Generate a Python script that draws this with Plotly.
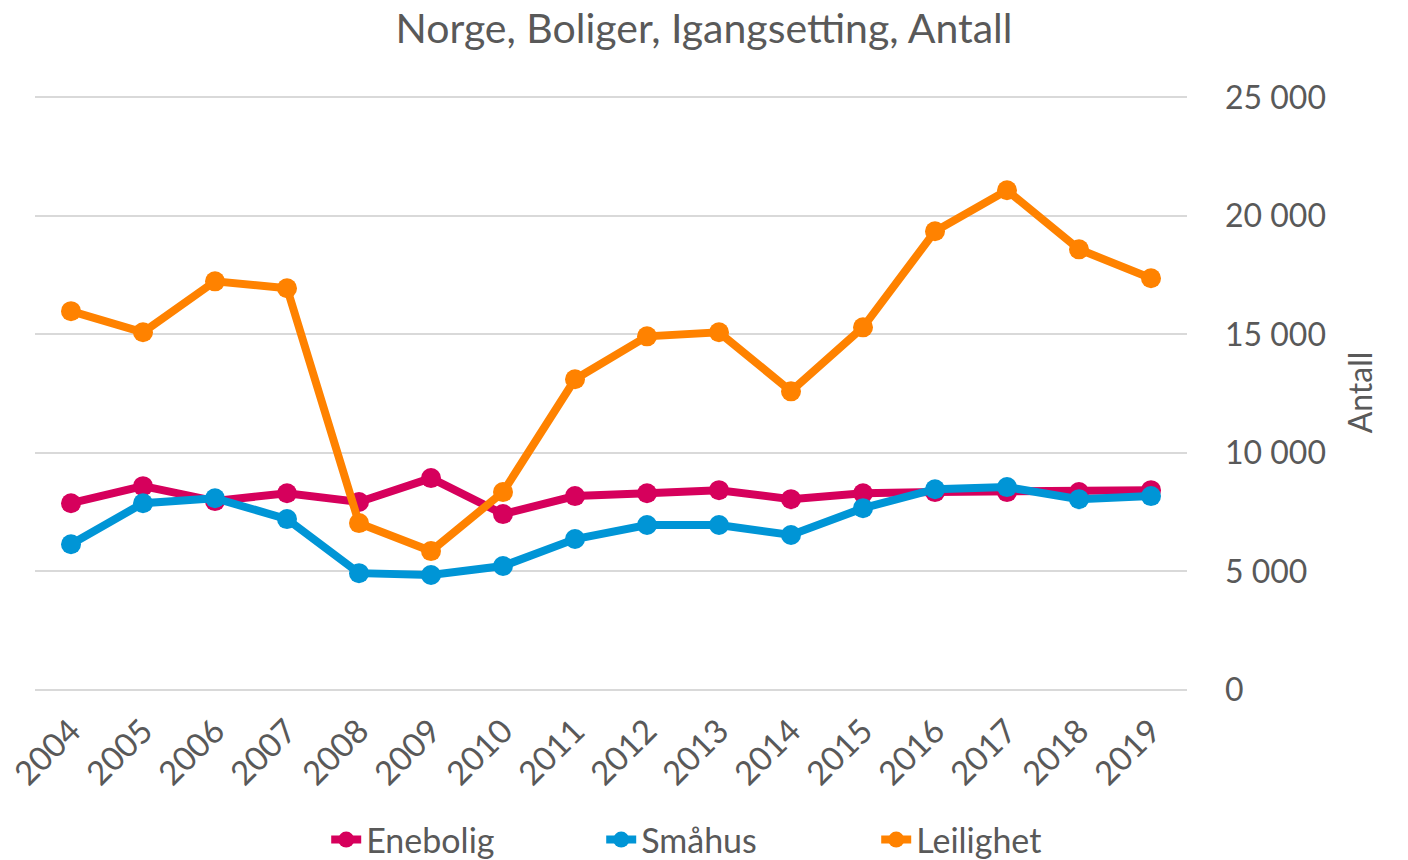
import plotly.graph_objects as go

years = [str(y) for y in range(2004, 2020)]
enebolig = [7880, 8600, 7970, 8300, 7930, 8940, 7420, 8180, 8300, 8430, 8050, 8300, 8350, 8350, 8350, 8430]
smahus = [6150, 7880, 8090, 7210, 4930, 4850, 5230, 6370, 6960, 6960, 6540, 7670, 8470, 8560, 8050, 8180]
leilighet = [15980, 15090, 17240, 16950, 7040, 5860, 8350, 13110, 14920, 15090, 12600, 15300, 19350, 21080, 18590, 17370]

series = [("Enebolig", enebolig, "#D6005C"), ("Småhus", smahus, "#0095D6"), ("Leilighet", leilighet, "#FF8200")]

fig = go.Figure()
for name, vals, col in series:
    fig.add_trace(go.Scatter(x=years, y=vals, name=name, mode="lines+markers",
                             line=dict(color=col, width=8),
                             marker=dict(color=col, size=20)))

font = "Lato, 'Open Sans', sans-serif"
grey = "#595959"
fig.update_layout(
    width=1408, height=860,
    paper_bgcolor="white", plot_bgcolor="white",
    margin=dict(l=27, r=229, t=87, b=178, autoexpand=False),
    separators=", ",
    title=dict(text="Norge, Boliger, Igangsetting, Antall", x=0.4943, xref="container",
               xanchor="center", y=0.993, yref="container", yanchor="top",
               font=dict(family=font, size=41, color=grey)),
    font=dict(family=font, color=grey),
    showlegend=True,
    legend=dict(orientation="h", xref="container", x=0.226, xanchor="left",
                yref="container", y=(860 - 832) / 860, yanchor="middle",
                font=dict(size=34, color=grey), entrywidth=230, entrywidthmode="pixels",
                tracegroupgap=0),
    xaxis=dict(type="category", range=[-0.5, 15.5], tickangle=-45, showgrid=False,
               showline=False, ticks="", automargin=False, ticklabelstandoff=14,
               tickfont=dict(size=33, color=grey)),
    yaxis=dict(side="right", range=[0, 25100], dtick=5000, tick0=0, tickformat=",d",
               showgrid=True, gridcolor="#D9D9D9", gridwidth=2, zeroline=True,
               zerolinecolor="#D9D9D9", zerolinewidth=2, showline=False, automargin=False,
               tickfont=dict(size=32, color=grey), ticklabelstandoff=37,
               title=dict(text="Antall", font=dict(size=32, color=grey), standoff=24)),
)
fig.write_html("out.html")
